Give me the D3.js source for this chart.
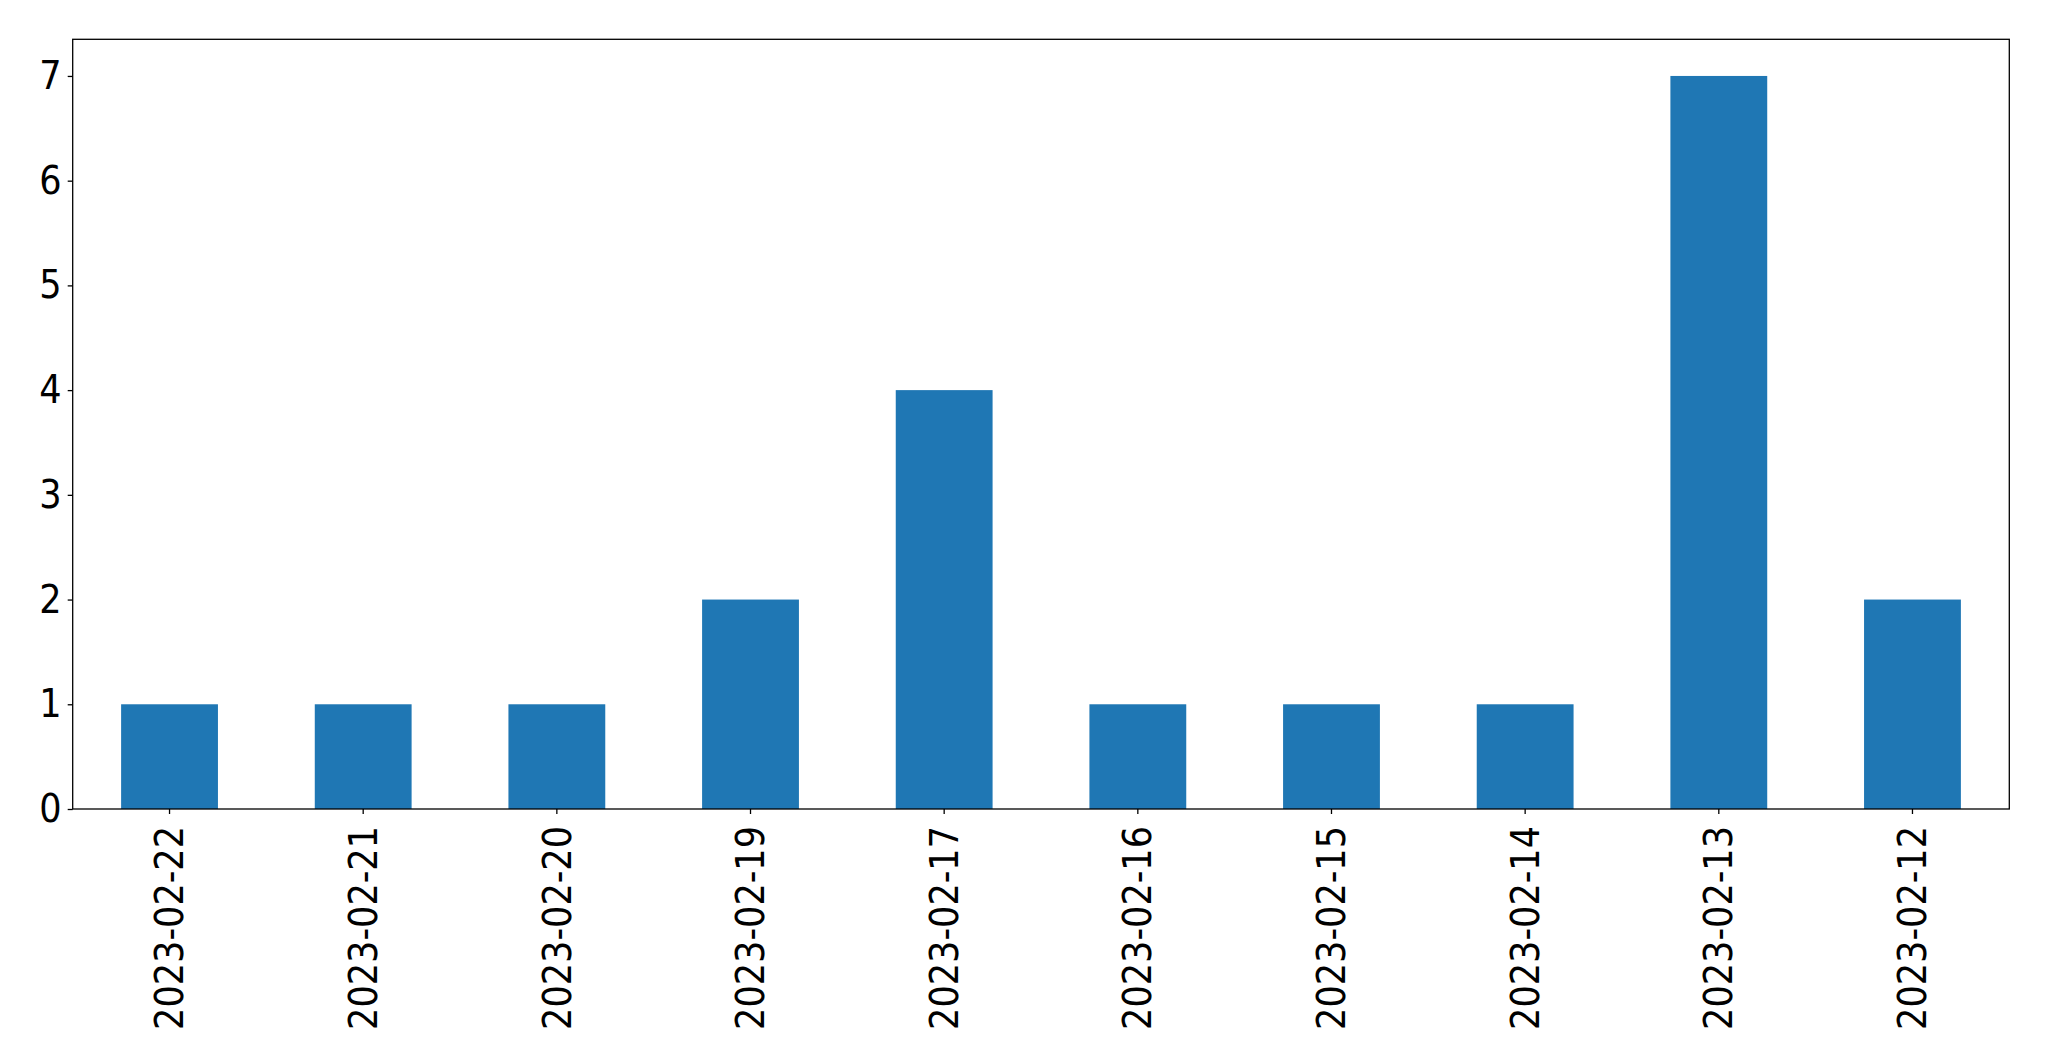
<!DOCTYPE html>
<html><head><meta charset="utf-8">
<script src="https://cdn.jsdelivr.net/npm/d3@7"></script>
<style>body{margin:0;background:#fff}svg{display:block}</style>
</head><body>
<script>
const categories = ["2023-02-22","2023-02-21","2023-02-20","2023-02-19","2023-02-17","2023-02-16","2023-02-15","2023-02-14","2023-02-13","2023-02-12"];
const values = [1,1,1,2,4,1,1,1,7,2];
const yTicks = [0,1,2,3,4,5,6,7];

const W = 2049, H = 1061;
const m = {left: 72.7, top: 39.3, right: 2049 - 2009.3, bottom: 1061 - 809};
const svg = d3.select("body").append("svg").attr("width", W).attr("height", H);
const iw = W - m.left - m.right, ih = H - m.top - m.bottom;
const g = svg.append("g").attr("transform", `translate(${m.left},${m.top})`);

const x = d3.scaleBand().domain(categories).range([0, iw]).paddingInner(0.5).paddingOuter(0.25);
const y = d3.scaleLinear().domain([0, 7.35]).range([ih, 0]);

g.selectAll("rect.bar").data(values).join("rect").attr("class","bar")
  .attr("x", (d,i) => x(categories[i]))
  .attr("width", x.bandwidth())
  .attr("y", d => y(d))
  .attr("height", d => y(0) - y(d))
  .attr("fill", "#1f77b4");

const fontFam = "'DejaVu Sans Condensed', 'DejaVu Sans', sans-serif";
const yAxis = g.append("g").call(d3.axisLeft(y).tickValues(yTicks).tickFormat(d3.format("d")).tickSize(5).tickPadding(6));
const xAxis = g.append("g").attr("transform", `translate(0,${ih})`).call(d3.axisBottom(x).tickSize(5).tickPadding(12));
[yAxis, xAxis].forEach(a => {
  a.select(".domain").remove();
  a.selectAll("line").attr("stroke", "#000").attr("stroke-width", 1.3);
  a.selectAll("text").attr("font-family", fontFam).attr("font-stretch", "condensed")
    .attr("font-size", 39).attr("fill", "#000");
});
xAxis.selectAll(".tick text")
  .attr("transform", "rotate(-90)")
  .attr("text-anchor", "end")
  .attr("dy", "0.35em")
  .attr("x", -17).attr("y", 0);

g.append("rect").attr("x",0).attr("y",0).attr("width",iw).attr("height",ih)
  .attr("fill","none").attr("stroke","#000").attr("stroke-width",1.3);
</script>
</body></html>
